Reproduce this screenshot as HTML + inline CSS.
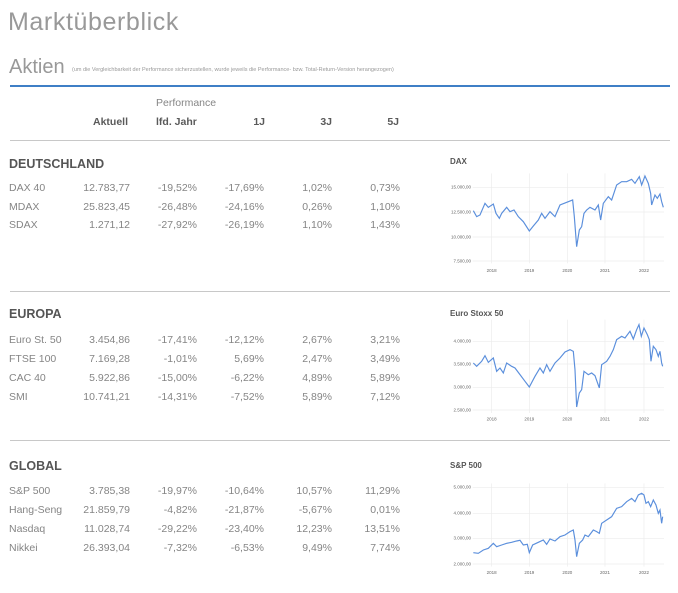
<!DOCTYPE html>
<html><head><meta charset="utf-8"><style>
body{margin:0;width:678px;height:593px;background:#fff;font-family:"Liberation Sans",sans-serif;position:relative;overflow:hidden}
.a{position:absolute;white-space:nowrap}
.t{color:#858585;font-size:10.5px}
.r{text-align:right;width:80px}
.h{color:#5a5a5a;font-weight:bold;font-size:10.5px}
.sec{color:#555;font-weight:bold;font-size:12.5px}
.hr{position:absolute;left:10px;width:660px;height:1px;background:#c8c8c8}
.ct{color:#555;font-weight:bold;font-size:8px}
</style></head><body>
<div class="a" style="left:8px;top:8px;font-size:25px;color:#999;letter-spacing:0.6px">Marktüberblick</div>
<div class="a" style="left:9px;top:56px;font-size:20px;color:#999">Aktien</div>
<div class="a" style="left:72px;top:67px;font-size:5.5px;color:#999">(um die Vergleichbarkeit der Performance sicherzustellen, wurde jeweils die Performance- bzw. Total-Return-Version herangezogen)</div>
<div style="position:absolute;left:10px;top:85px;width:660px;height:2px;background:#3f7fc6"></div>
<div class="a" style="left:156px;top:97px;font-size:10.5px;color:#858585">Performance</div>
<div class="a h r" style="left:48px;top:116px">Aktuell</div>
<div class="a h" style="left:156px;top:116px">lfd. Jahr</div>
<div class="a h r" style="left:185px;top:116px">1J</div>
<div class="a h r" style="left:252px;top:116px">3J</div>
<div class="a h r" style="left:319px;top:116px">5J</div>
<div class="hr" style="top:140px"></div>
<div class="hr" style="top:291px"></div>
<div class="hr" style="top:440px"></div>

<div class="a sec" style="left:9px;top:157px">DEUTSCHLAND</div>
<div class="a sec" style="left:9px;top:307px">EUROPA</div>
<div class="a sec" style="left:9px;top:459px">GLOBAL</div>

<div id="rows"></div>
<script>
var R=[[182,"DAX 40","12.783,77","-19,52%","-17,69%","1,02%","0,73%"],
[201,"MDAX","25.823,45","-26,48%","-24,16%","0,26%","1,10%"],
[219,"SDAX","1.271,12","-27,92%","-26,19%","1,10%","1,43%"],
[334,"Euro St. 50","3.454,86","-17,41%","-12,12%","2,67%","3,21%"],
[353,"FTSE 100","7.169,28","-1,01%","5,69%","2,47%","3,49%"],
[372,"CAC 40","5.922,86","-15,00%","-6,22%","4,89%","5,89%"],
[391,"SMI","10.741,21","-14,31%","-7,52%","5,89%","7,12%"],
[485,"S&amp;P 500","3.785,38","-19,97%","-10,64%","10,57%","11,29%"],
[504,"Hang-Seng","21.859,79","-4,82%","-21,87%","-5,67%","0,01%"],
[523,"Nasdaq","11.028,74","-29,22%","-23,40%","12,23%","13,51%"],
[542,"Nikkei","26.393,04","-7,32%","-6,53%","9,49%","7,74%"]];
var ends=[130,197,264,332,400],h="";
R.forEach(function(r){h+='<div class="a t" style="left:9px;top:'+r[0]+'px">'+r[1]+'</div>';
for(var i=0;i<5;i++)h+='<div class="a t r" style="left:'+(ends[i]-80)+'px;top:'+r[0]+'px">'+r[i+2]+'</div>';});
document.getElementById('rows').innerHTML=h;
</script>

<div class="a ct" style="left:450px;top:157px">DAX</div>
<div class="a ct" style="left:450px;top:309px">Euro Stoxx 50</div>
<div class="a ct" style="left:450px;top:461px">S&amp;P 500</div>

<svg width="678" height="593" style="position:absolute;left:0;top:0" font-family="Liberation Sans" font-size="4.5" fill="#666">
<g transform="translate(440,150) scale(0.3333)">
 <g stroke="#ececec" stroke-width="2">
  <line x1="98" x2="672" y1="112" y2="112"/><line x1="98" x2="672" y1="186" y2="186"/><line x1="98" x2="672" y1="261" y2="261"/><line x1="98" x2="672" y1="333" y2="333"/>
  <line x1="155" x2="155" y1="70" y2="340"/><line x1="268" x2="268" y1="70" y2="340"/><line x1="382" x2="382" y1="70" y2="340"/><line x1="495" x2="495" y1="70" y2="340"/><line x1="612" x2="612" y1="70" y2="340"/>
 </g>
 <g font-size="13.5" text-anchor="end"><text x="93" y="116">15.000,00</text><text x="93" y="190">12.500,00</text><text x="93" y="265">10.000,00</text><text x="93" y="337">7.500,00</text></g>
 <g font-size="13.5" text-anchor="middle"><text x="155" y="366">2018</text><text x="268" y="366">2019</text><text x="382" y="366">2020</text><text x="495" y="366">2021</text><text x="612" y="366">2022</text></g>
 <polyline fill="none" stroke="#5b8fdc" stroke-width="3.5" points="100,182 110,200 120,195 135,160 145,172 160,162 168,190 178,205 185,190 200,172 210,185 222,180 235,200 250,215 268,243 280,228 295,210 305,190 315,205 330,185 345,200 360,165 385,155 398,150 403,200 410,290 418,240 425,230 432,190 440,180 450,172 465,180 475,165 482,210 490,160 505,140 515,150 530,105 545,95 560,95 575,88 585,100 598,80 605,105 615,78 625,100 632,130 635,165 645,135 652,145 660,132 665,155 670,172"/>
</g>
<g transform="translate(440,303) scale(0.3333)">
 <g stroke="#ececec" stroke-width="2">
  <line x1="98" x2="672" y1="115" y2="115"/><line x1="98" x2="672" y1="183" y2="183"/><line x1="98" x2="672" y1="253" y2="253"/><line x1="98" x2="672" y1="321" y2="321"/>
  <line x1="155" x2="155" y1="50" y2="330"/><line x1="268" x2="268" y1="50" y2="330"/><line x1="382" x2="382" y1="50" y2="330"/><line x1="495" x2="495" y1="50" y2="330"/><line x1="612" x2="612" y1="50" y2="330"/>
 </g>
 <g font-size="13.5" text-anchor="end"><text x="93" y="119">4.000,00</text><text x="93" y="187">3.500,00</text><text x="93" y="257">3.000,00</text><text x="93" y="325">2.500,00</text></g>
 <g font-size="13.5" text-anchor="middle"><text x="155" y="352">2018</text><text x="268" y="352">2019</text><text x="382" y="352">2020</text><text x="495" y="352">2021</text><text x="612" y="352">2022</text></g>
 <polyline fill="none" stroke="#5b8fdc" stroke-width="3.5" points="100,180 110,190 125,175 135,158 145,178 160,165 170,205 180,195 190,210 200,180 215,190 225,195 240,215 255,235 268,252 285,220 300,195 310,210 320,185 330,205 345,180 360,165 375,147 390,140 400,145 405,200 410,312 418,270 425,260 432,205 445,215 455,210 465,218 478,255 485,185 500,175 510,160 520,140 530,110 545,100 555,105 570,85 580,108 590,80 597,65 604,100 612,75 622,95 628,110 633,175 640,130 648,140 655,160 660,145 665,180 668,190"/>
</g>
<g transform="translate(440,455) scale(0.3333)">
 <g stroke="#ececec" stroke-width="2">
  <line x1="98" x2="672" y1="97" y2="97"/><line x1="98" x2="672" y1="175" y2="175"/><line x1="98" x2="672" y1="250" y2="250"/><line x1="98" x2="672" y1="327" y2="327"/>
  <line x1="155" x2="155" y1="85" y2="335"/><line x1="268" x2="268" y1="85" y2="335"/><line x1="382" x2="382" y1="85" y2="335"/><line x1="495" x2="495" y1="85" y2="335"/><line x1="612" x2="612" y1="85" y2="335"/>
 </g>
 <g font-size="13.5" text-anchor="end"><text x="93" y="101">5.000,00</text><text x="93" y="179">4.000,00</text><text x="93" y="254">3.000,00</text><text x="93" y="331">2.000,00</text></g>
 <g font-size="13.5" text-anchor="middle"><text x="155" y="357">2018</text><text x="268" y="357">2019</text><text x="382" y="357">2020</text><text x="495" y="357">2021</text><text x="612" y="357">2022</text></g>
 <polyline fill="none" stroke="#5b8fdc" stroke-width="3.5" points="100,293 115,295 130,285 145,280 160,265 170,275 185,270 200,265 215,262 230,258 240,256 250,270 262,268 268,293 278,270 295,262 310,255 320,268 330,252 345,258 360,245 375,240 390,230 400,225 405,255 410,305 418,265 428,255 435,240 445,245 460,225 470,230 478,235 485,205 500,195 515,185 530,160 545,155 560,140 575,130 585,140 595,120 605,115 612,120 618,145 625,140 632,155 640,135 648,150 655,175 660,165 665,205 668,185"/>
</g>
</svg>
</body></html>
